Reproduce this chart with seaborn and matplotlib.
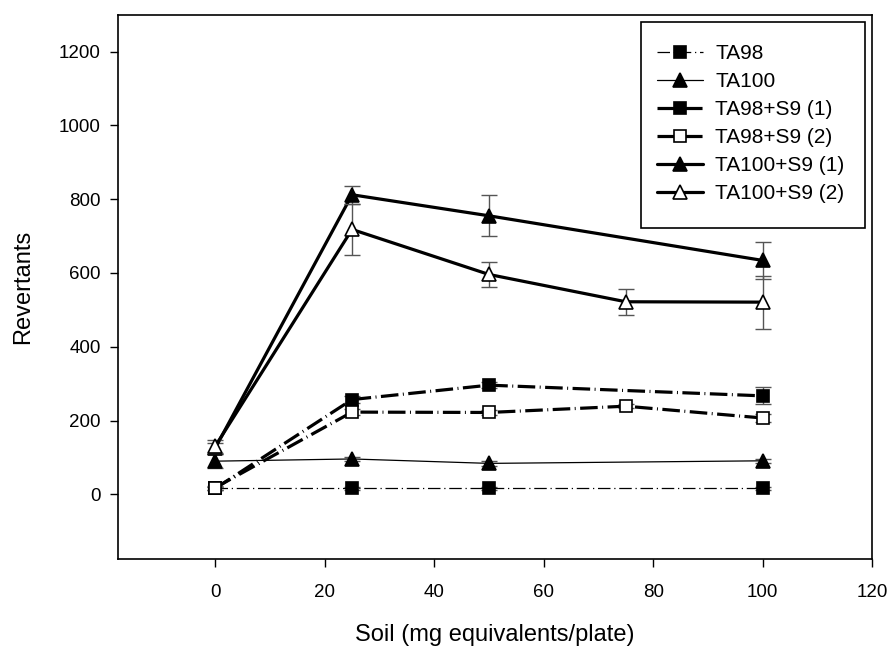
import numpy as np
import pandas as pd
import seaborn as sns
import matplotlib
matplotlib.use("Agg")
import matplotlib.pyplot as plt
from matplotlib.lines import Line2D
from matplotlib.patches import Rectangle

sns.set_theme(style="white")
plt.rcParams['font.family'] = ['Liberation Sans', 'DejaVu Sans']
plt.rcParams['text.color'] = 'black'
plt.rcParams['axes.labelcolor'] = 'black'
plt.rcParams['xtick.color'] = 'black'
plt.rcParams['ytick.color'] = 'black'

# ---- data ----
ta98_x = [0, 25, 50, 100]
ta98_y = [16, 16, 16, 16]
ta98_e = [4, 4, 4, 4]

ta100_x = [0, 25, 50, 100]
ta100_y = [90, 96, 84, 91]
ta100_e = [19, 6, 6, 6]

ta98s9a_x = [0, 25, 50, 100]
ta98s9a_y = [16, 257, 296, 267]
ta98s9a_e = [5, 10, 8, 23]

ta98s9b_x = [0, 25, 50, 75, 100]
ta98s9b_y = [18, 223, 222, 239, 207]
ta98s9b_e = [5, 8, 6, 6, 12]

ta100s9a_x = [0, 25, 50, 100]
ta100s9a_y = [125, 812, 755, 634]
ta100s9a_e = [15, 25, 56, 50]

ta100s9b_x = [0, 25, 50, 75, 100]
ta100s9b_y = [130, 718, 596, 522, 521]
ta100s9b_e = [18, 70, 34, 35, 72]

labels = ["TA98", "TA100", "TA98+S9 (1)", "TA98+S9 (2)", "TA100+S9 (1)", "TA100+S9 (2)"]
xticks = [0, 20, 40, 60, 80, 100, 120]
yticks = [0, 200, 400, 600, 800, 1000, 1200]

thin_dash = (0, (10, 3, 1, 3))
thick_dash = (0, (5.5, 1.4, 0.3, 1.4))

series = [
    (labels[0], ta98_x, ta98_y, ta98_e, dict(marker='s', mfc='black', lw=0.9, ls=thin_dash, ms=9)),
    (labels[1], ta100_x, ta100_y, ta100_e, dict(marker='^', mfc='black', lw=0.9, ls='-', ms=10)),
    (labels[2], ta98s9a_x, ta98s9a_y, ta98s9a_e, dict(marker='s', mfc='black', lw=2.3, ls=thick_dash, ms=9)),
    (labels[3], ta98s9b_x, ta98s9b_y, ta98s9b_e, dict(marker='s', mfc='white', lw=2.3, ls=thick_dash, ms=9)),
    (labels[4], ta100s9a_x, ta100s9a_y, ta100s9a_e, dict(marker='^', mfc='black', lw=2.3, ls='-', ms=10)),
    (labels[5], ta100s9b_x, ta100s9b_y, ta100s9b_e, dict(marker='^', mfc='white', lw=2.3, ls='-', ms=10)),
]

fig = plt.figure(figsize=(8.9, 6.5), dpi=100)
ax = fig.add_axes([0.1322, 0.1395, 0.9801 - 0.1322, 0.9774 - 0.1395])

handles = []
for i, (name, xs, ys, es, st) in enumerate(series):
    df = pd.DataFrame({"x": xs, "y": ys})
    ax.errorbar(xs, ys, yerr=es, fmt='none', ecolor='#555555', elinewidth=1.0,
                capsize=5.5, capthick=1.0, zorder=2 + i)
    sns.lineplot(data=df, x="x", y="y", ax=ax, color='black', linewidth=st['lw'],
                 linestyle=st['ls'], marker=st['marker'], markersize=st['ms'],
                 markerfacecolor=st['mfc'], markeredgecolor='black', markeredgewidth=1.2,
                 zorder=3 + i, legend=False)
    handles.append(Line2D([0], [0], color='black', lw=st['lw'], ls=st['ls'],
                          marker=st['marker'], ms=st['ms'], mfc=st['mfc'],
                          mec='black', mew=1.2))

ax.set_xlim(-17.8, 120)
ax.set_ylim(-176, 1300)
ax.set_xticks(xticks)
ax.set_yticks(yticks)
ax.tick_params(axis='both', direction='out', length=6, width=1.0, labelsize=13.5,
               color='black', labelcolor='black', pad=6,
               top=False, right=False, bottom=True, left=True)
ax.tick_params(axis='x', pad=12)
for s in ax.spines.values():
    s.set_color('black')
    s.set_linewidth(1.2)
ax.grid(False)
ax.set_xlabel("Soil (mg equivalents/plate)", fontsize=17, labelpad=16, color='black')
ax.set_ylabel("Revertants", fontsize=17, labelpad=18, color='black')

# legend box frame
ax.add_patch(Rectangle((0.6931, 0.6083), 0.9903 - 0.6931, 0.9872 - 0.6083,
                       transform=ax.transAxes, fill=True, facecolor='white',
                       edgecolor='black', linewidth=1.2, zorder=20))
leg = ax.legend(handles, labels, loc='upper left', bbox_to_anchor=(0.7143, 0.9458),
                borderaxespad=0, borderpad=0, frameon=False, fontsize=15,
                handlelength=2.2, labelspacing=0.43, handletextpad=0.6)
leg.set_zorder(21)
for t in leg.get_texts():
    t.set_color('black')

fig.savefig("out.png", dpi=100)
